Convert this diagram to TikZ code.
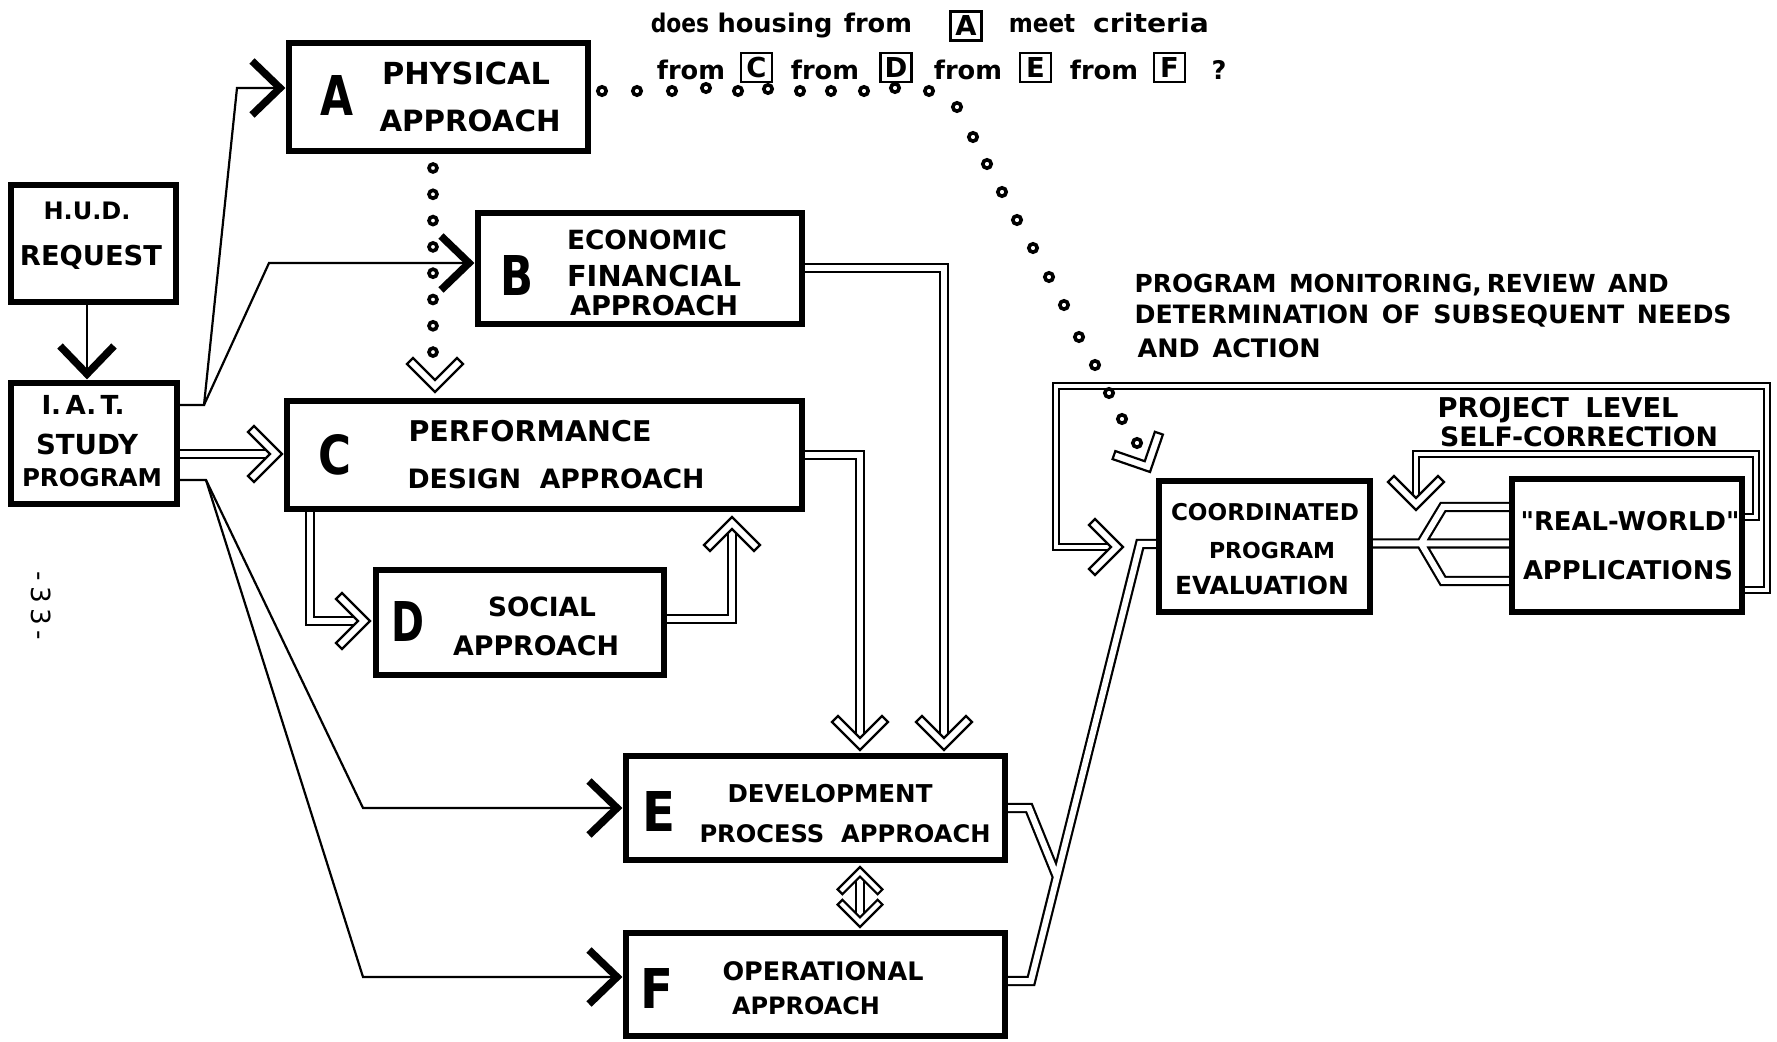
\documentclass[tikz,border=0pt]{standalone}
\usepackage{fontspec}
\setmainfont{DejaVu Sans}
\newfontfamily\rawfont{DejaVu Sans}
\usepackage{graphicx}
\usetikzlibrary{calc}
\pgfdeclarelayer{bg}
\pgfsetlayers{bg,main}

% text set to a measured width
\newcommand{\fitw}[2]{\resizebox{#1}{!}{\bfseries #2}}
% large key letters of the approach boxes
\newcommand{\keyletter}[1]{\resizebox{3.3mm}{4.0mm}{\bfseries #1}}

\tikzset{
  box/.style={draw, line width=0.6mm, rectangle, inner sep=0pt},
  lbl/.style={inner sep=0pt},
  word/.style={inner sep=0pt, anchor=base, font=\bfseries\fontsize{7.3}{8}\selectfont},
  framed/.style={draw, line width=0.25mm, inner sep=0pt, minimum width=3.1mm,
                 minimum height=2.9mm, font=\bfseries\fontsize{7.8}{8}\selectfont},
  conn/.style={line width=0.22mm},
  dbl/.style={double, line width=0.22mm, double distance=0.6mm},
  dblthin/.style={double, line width=0.2mm, double distance=0.42mm},
  dot/.style={line width=0.36mm},
  hollowhead/.pic={
    \filldraw[fill=white, line width=0.22mm]
      (0,0) -- (-28,28) -- (-34,22) -- (-12,0) -- (-34,-22) -- (-28,-28) -- cycle;
  },
  solidhead/.pic={
    \draw[line width=0.75mm] (-28,-27) -- (0,0) -- (-28,27);
  },
}

\begin{document}
\begin{tikzpicture}[x=0.1mm, y=-0.1mm]
\useasboundingbox (0,0) rectangle (1777,1042);

% ---------- boxes ----------
\node[box, minimum width=16.5mm, minimum height=11.7mm] (hud) at (93.5,243.5) {};
\node[box, minimum width=16.6mm, minimum height=12.1mm] (iat) at (94,443.5) {};
\node[box, minimum width=29.9mm, minimum height=10.8mm] (A) at (438.5,97) {};
\node[box, minimum width=32.4mm, minimum height=11.1mm] (B) at (640,268.5) {};
\node[box, minimum width=51.5mm, minimum height=10.8mm] (C) at (544.5,455) {};
\node[box, minimum width=28.8mm, minimum height=10.5mm] (D) at (520,622.5) {};
\node[box, minimum width=37.9mm, minimum height=10.4mm] (E) at (815.5,808) {};
\node[box, minimum width=37.9mm, minimum height=10.3mm] (F) at (815.5,984.5) {};
\node[box, minimum width=21.1mm, minimum height=13.1mm] (coord) at (1264.5,546.5) {};
\node[box, minimum width=23.0mm, minimum height=13.3mm] (rw) at (1627,545.5) {};

% ---------- box texts ----------
\node[lbl] (hud1) at (87,211) {\fitw{8.7mm}{H.U.D.}};
\node[lbl] (hud2) at (91,257) {\fitw{14.2mm}{REQUEST}};
\node[lbl] (iat1) at (83,405) {\fitw{8.3mm}{I.\,A.\,T.}};
\node[lbl] (iat2) at (87,444) {\fitw{10.2mm}{STUDY}};
\node[lbl] (iat3) at (92,478) {\fitw{14.0mm}{PROGRAM}};

\node[lbl] (Akey) at (337,96) {\keyletter{A}};
\node[lbl] (A1) at (466,73) {\fitw{16.8mm}{PHYSICAL}};
\node[lbl] (A2) at (470,121) {\fitw{18.1mm}{APPROACH}};

\node[lbl] (Bkey) at (517,276) {\keyletter{B}};
\node[lbl] (B1) at (647,240) {\fitw{16.0mm}{ECONOMIC}};
\node[lbl] (B2) at (654,276) {\fitw{17.4mm}{FINANCIAL}};
\node[lbl] (B3) at (654,306) {\fitw{16.8mm}{APPROACH}};

\node[lbl] (Ckey) at (335,455) {\keyletter{C}};
\node[lbl] (C1) at (530,431) {\fitw{24.3mm}{PERFORMANCE}};
\node[lbl] (C2) at (556,479) {\fitw{29.7mm}{DESIGN\hspace{0.7em}APPROACH}};

\node[lbl] (Dkey) at (408,622) {\keyletter{D}};
\node[lbl] (D1) at (542,607) {\fitw{10.8mm}{SOCIAL}};
\node[lbl] (D2) at (536,646) {\fitw{16.6mm}{APPROACH}};

\node[lbl] (Ekey) at (659,811) {\keyletter{E}};
\node[lbl] (E1) at (830,794) {\fitw{20.5mm}{DEVELOPMENT}};
\node[lbl] (E2) at (845,834) {\fitw{29.1mm}{PROCESS\hspace{0.7em}APPROACH}};

\node[lbl] (Fkey) at (657,988) {\keyletter{F}};
\node[lbl] (F1) at (823,971) {\fitw{20.1mm}{OPERATIONAL}};
\node[lbl] (F2) at (806,1006) {\fitw{14.8mm}{APPROACH}};

\node[lbl] (co1) at (1265,512) {\fitw{18.8mm}{COORDINATED}};
\node[lbl] (co2) at (1272,550) {\fitw{12.6mm}{PROGRAM}};
\node[lbl] (co3) at (1262,585) {\fitw{17.4mm}{EVALUATION}};

\node[lbl] (rw1) at (1630,521) {\fitw{21.9mm}{\rawfont\bfseries "REAL-WORLD"}};
\node[lbl] (rw2) at (1628,570) {\fitw{21.0mm}{APPLICATIONS}};

% ---------- free labels ----------
\node[lbl] (pl1) at (1558,410) {\fitw{24.1mm}{PROJECT\hspace{0.6em}LEVEL}};
\node[lbl] (pl2) at (1579,437) {\fitw{27.8mm}{SELF-CORRECTION}};

\node[lbl, anchor=west] (mon1) at (1134,285) {\fitw{53.4mm}{PROGRAM\hspace{0.5em}MONITORING,\hspace{0.2em}REVIEW\hspace{0.5em}AND}};
\node[lbl, anchor=west] (mon2) at (1134,316) {\fitw{59.7mm}{DETERMINATION\hspace{0.5em}OF\hspace{0.5em}SUBSEQUENT\hspace{0.5em}NEEDS}};
\node[lbl, anchor=west] (mon3) at (1137,348) {\fitw{18.3mm}{AND\hspace{0.5em}ACTION}};

\node[lbl, rotate=-90, font=\fontsize{7.5}{9}\selectfont] (page) at (41,606) {-\kern1.5pt3\kern1.5pt3\kern1.5pt-};

% question along the top
\node[word] (q1) at (680,33) {\scalebox{0.85}[1]{does}};
\node[word] (q2) at (775,33) {housing};
\node[word] (q3) at (878,33) {from};
\node[framed] (qA) at (966,26) {A};
\node[word] (q4) at (1042,33) {\scalebox{0.9}[1]{meet}};
\node[word] (q5) at (1151,33) {\scalebox{1.1}[1]{criteria}};
\node[word] (r1) at (691,80) {from};
\node[framed] (qC) at (756.5,67.5) {C};
\node[word] (r2) at (825,80) {from};
\node[framed] (qD) at (896,67.5) {D};
\node[word] (r3) at (968,80) {from};
\node[framed] (qE) at (1035.5,67.5) {E};
\node[word] (r4) at (1104,80) {from};
\node[framed] (qF) at (1169.5,67.5) {F};
\node[word] (r5) at (1219,80) {?};

% ---------- connectors ----------
\begin{pgfonlayer}{bg}
\coordinate (j1) at (204,405);
\coordinate (j2) at (206,480);
\coordinate (hA) at (280,88);
\coordinate (hB) at (469,263);
\coordinate (hE) at (617,808);
\coordinate (hF) at (617,977);
\coordinate (hI) at (87,374);

% single-line feeds
\draw[conn] (hud.south -| hI) -- (hI);
\pic[rotate=-90] at (hI) {solidhead};
\draw[conn] (iat.east |- j1) -- (j1) -- (237,88) -- (hA);
\pic at (hA) {solidhead};
\draw[conn] (j1) -- (269,263) -- (hB);
\pic at (hB) {solidhead};
\draw[conn] (iat.east |- j2) -- (j2) -- (363,808) -- (hE);
\pic at (hE) {solidhead};
\draw[conn] (j2) -- (363,977) -- (hF);
\pic at (hF) {solidhead};

% double-line flows
\coordinate (hC) at (282,454);
\coordinate (hD) at (370,621);
\coordinate (hDC) at (732,517);
\coordinate (hCE) at (860,750);
\coordinate (hBE) at (944,750);
\coordinate (hEF1) at (860,867);
\coordinate (hEF2) at (860,927);
\coordinate (hLoop) at (1123,547);
\coordinate (hSelf) at (1416,510);
\coordinate (hDot) at (1150,472);
\coordinate (hAC) at (435,392);

\draw[dbl, shorten >=1.2mm] (iat.east |- hC) -- (hC);
\pic at (hC) {hollowhead};
\draw[dbl, shorten >=1.2mm] (C.south -| 310,0) -- (310,621) -- (hD);
\pic at (hD) {hollowhead};
\draw[dbl, shorten >=1.2mm] (D.east |- 0,619) -- (732,619) -- (hDC);
\pic[rotate=90] at (hDC) {hollowhead};
\draw[dbl, shorten >=1.2mm] (C.east |- 0,455) -- (860,455) -- (hCE);
\pic[rotate=-90] at (hCE) {hollowhead};
\draw[dbl, shorten >=1.2mm] (B.east |- 0,268) -- (944,268) -- (hBE);
\pic[rotate=-90] at (hBE) {hollowhead};
\draw[dbl, shorten <=1mm, shorten >=1mm] (hEF1) -- (hEF2);
\pic[rotate=90, scale=0.8] at (hEF1) {hollowhead};
\pic[rotate=-90, scale=0.8] at (hEF2) {hollowhead};

% E and F join and run up to the evaluation box
\draw[dbl] (E.east |- 0,808) -- (1029,808) -- (1057,877)
           (F.east |- 0,981) -- (1031,981) -- (1140,544) -- (coord.west |- 0,544);

% three-pronged link between evaluation and applications
\draw[dbl] (coord.east |- 0,543.5) -- (1421,543.5) -- (1443,507) -- (rw.west |- 0,507)
           (coord.east |- 0,543.5) -- (rw.west |- 0,543.5)
           (coord.east |- 0,543.5) -- (1421,543.5) -- (1443,581) -- (rw.west |- 0,581);

% feedback loops
\draw[dblthin, shorten >=1.2mm] (rw.east |- 0,590) -- (1767,590) -- (1767,386)
      -- (1056,386) -- (1056,547) -- (hLoop);
\pic at (hLoop) {hollowhead};
\draw[dblthin, shorten >=1.2mm] (rw.east |- 0,517) -- (1756,517) -- (1756,454)
      -- (1416,454) -- (hSelf);
\pic[rotate=-90] at (hSelf) {hollowhead};

% dotted check paths
\pic[rotate=-90] at (hAC) {hollowhead};
\pic[rotate=-64] at (hDot) {hollowhead};
\foreach \k in {0,...,7}
  \draw[dot] (433,168+26.3*\k) circle[radius=0.4mm];
\foreach \px/\py in {602/91,637/91,672/91,706/88,738/91,768/89,800/91,831/91,864/91,895/88,929/91,
                     957/107,973/137,987/164,1002/192,1017/220,1033/248,1049/277,1064/305,
                     1079/337,1095/365,1109/393,1122/419,1137/443}
  \draw[dot] (\px,\py) circle[radius=0.42mm];
\end{pgfonlayer}

\end{tikzpicture}
\end{document}
